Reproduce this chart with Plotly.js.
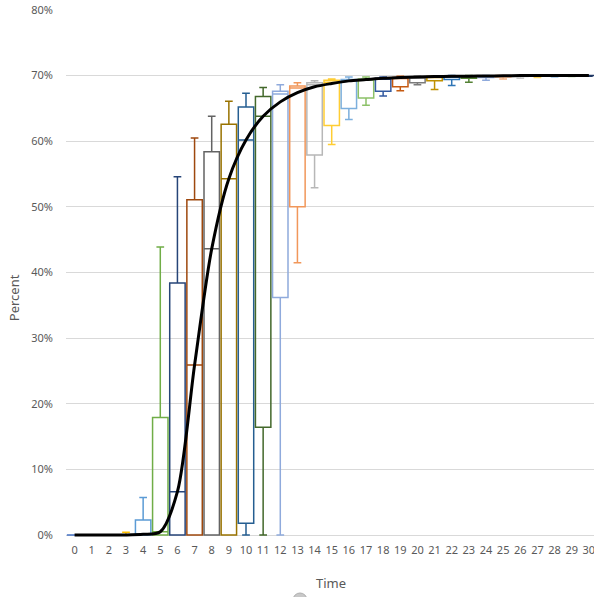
<!DOCTYPE html>
<html>
<head>
<meta charset="utf-8">
<script src="https://cdn.plot.ly/plotly-3.0.1.min.js"></script>
<style>html,body{margin:0;padding:0;background:#fff;}#chart{width:594px;height:597px;}</style>
</head>
<body>
<div id="chart"></div>
<script>
// Time categories
const times = [0,1,2,3,4,5,6,7,8,9,10,11,12,13,14,15,16,17,18,19,20,21,22,23,24,25,26,27,28,29,30];
// Box statistics (percent)
const lowerFence = [0,0,0,0,0,0,0,0,0,0,0,0,0,41.5,52.9,59.5,63.3,65.5,66.9,67.7,68.6,67.9,68.5,69.0,69.3,69.5,69.6,69.7,69.8,69.85,69.9];
const q1Vals     = [0,0,0,0,0,0,0,0,0,0,1.8,16.4,36.2,50.0,57.9,62.4,65.0,66.6,67.6,68.3,68.9,69.2,69.4,69.6,69.7,69.8,69.85,69.9,69.9,69.95,70];
const medianVals = [0,0,0,0,0,0.5,6.6,25.9,43.6,54.3,60.2,63.8,67.2,68.1,68.6,69.0,69.3,69.5,69.6,69.7,69.8,69.8,69.85,69.9,69.9,69.95,70,70,70,70,70];
const q3Vals     = [0,0,0,0,2.3,17.9,38.4,51.1,58.4,62.6,65.2,66.8,67.6,68.4,68.9,69.3,69.4,69.5,69.6,69.7,69.8,69.85,69.9,69.9,69.95,70,70,70,70,70,70];
const upperFence = [0,0,0,0.4,5.7,43.9,54.6,60.5,63.8,66.1,67.3,68.2,68.6,68.9,69.2,69.5,69.8,69.8,69.8,69.9,69.9,69.95,70,70,70,70,70,70,70,70,70];
// Black curve
const curveVals  = [0,0,0,0,0.1,0.5,6.6,25.9,43.6,54.3,60.2,63.8,66.0,67.4,68.3,68.8,69.2,69.4,69.6,69.7,69.8,69.85,69.9,69.92,69.95,69.97,70,70,70,70,70];
// Series colours
const seriesColors = ['#4472C4','#ED7D31','#A5A5A5','#FFC000','#5B9BD5','#70AD47','#264478','#9E480E','#636363','#997300','#255E91','#43682B','#8FAADC','#F1975A','#B7B7B7','#FFCD33','#7CAFDD','#8CC168','#335AA1','#C55A11','#7B7B7B','#BF9000','#2E75B6','#548235','#8FAADC','#F4B183','#C9C9C9','#FFD966','#9DC3E6','#A9D18E','#203864'];

const traces = times.map((t, i) => ({
  type: 'box',
  x: [t],
  lowerfence: [lowerFence[i]],
  q1: [q1Vals[i]],
  median: [medianVals[i]],
  q3: [q3Vals[i]],
  upperfence: [upperFence[i]],
  width: 0.9,
  whiskerwidth: 0.5,
  line: {color: seriesColors[i], width: 1.5},
  fillcolor: 'rgba(0,0,0,0)',
  boxpoints: false,
  hoverinfo: 'skip',
  showlegend: false
}));

traces.push({
  type: 'scatter',
  mode: 'lines',
  x: times,
  y: curveVals,
  line: {color: '#000000', width: 3, shape: 'spline', smoothing: 0.8},
  hoverinfo: 'skip',
  showlegend: false
});

const font = 'Noto Sans, Open Sans, sans-serif';
const layout = {
  width: 594,
  height: 597,
  margin: {l: 66, r: 0, t: 10, b: 60, pad: 0},
  paper_bgcolor: '#ffffff',
  plot_bgcolor: '#ffffff',
  boxmode: 'overlay',
  showlegend: false,
  xaxis: {
    range: [-0.5, 30.3],
    tickvals: times,
    ticktext: times.map(String),
    showgrid: false,
    zeroline: false,
    showline: false,
    ticks: '',
    ticklabelstandoff: 5,
    ticklabeloverflow: 'allow',
    tickfont: {family: font, size: 11, color: '#595959'}
  },
  yaxis: {
    range: [-0.305, 80],
    dtick: 10,
    tick0: 0,
    ticksuffix: '%',
    showgrid: true,
    gridcolor: '#d9d9d9',
    gridwidth: 1,
    zeroline: true,
    zerolinecolor: '#d9d9d9',
    zerolinewidth: 1,
    ticks: '',
    ticklabelstandoff: 12,
    tickfont: {family: font, size: 11, color: '#595959'}
  },
  annotations: [
    {text: 'Percent', xref: 'paper', yref: 'paper', x: -0.0985, y: 0.455, textangle: -90,
     showarrow: false, xanchor: 'center', yanchor: 'middle', font: {family: font, size: 13, color: '#595959'}},
    {text: 'Time', xref: 'paper', yref: 'paper', x: 0.502, y: -0.0873,
     showarrow: false, xanchor: 'center', yanchor: 'middle', font: {family: font, size: 13, color: '#595959'}}
  ],
  shapes: [
    {type: 'circle', xref: 'paper', yref: 'paper',
     x0: (293 - 66) / 528, x1: (307 - 66) / 528,
     y0: (537 - 607) / 527, y1: (537 - 593) / 527,
     fillcolor: '#c8c8c8', line: {color: '#b0b0b0', width: 1}, layer: 'above'}
  ]
};

Plotly.newPlot('chart', traces, layout, {staticPlot: true, displayModeBar: false});
</script>
</body>
</html>
